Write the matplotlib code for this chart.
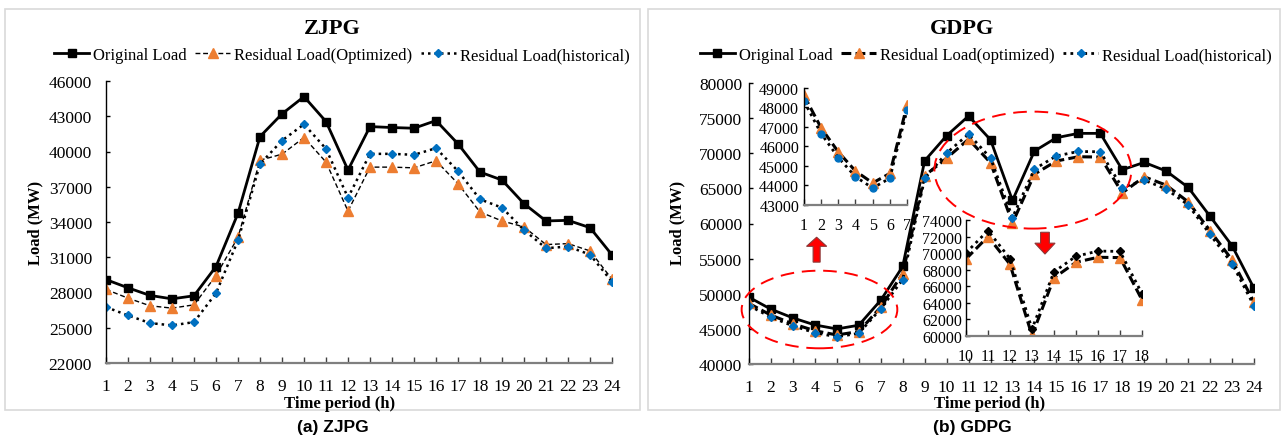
import matplotlib
matplotlib.use("Agg")
import matplotlib.pyplot as plt
from matplotlib.patches import Ellipse, FancyArrow, Rectangle

plt.rcParams['font.family'] = ['Liberation Serif', 'DejaVu Serif']

hours = list(range(1, 25))

# ZJPG
orig_zj = [29100, 28400, 27750, 27460, 27720, 30210, 34740, 41270, 43200, 44670, 42550, 38420,
           42120, 42040, 41980, 42630, 40650, 38250, 37570, 35560, 34090, 34140, 33520, 31200]
opt_zj = [28260, 27520, 26870, 26670, 26950, 29440, 32700, 39260, 39770, 41190, 39100, 34930,
          38670, 38670, 38610, 39210, 37260, 34850, 34090, 33580, 32080, 32160, 31540, 29130]
hist_zj = [26760, 26050, 25400, 25200, 25480, 27940, 32440, 38930, 40930, 42320, 40230, 36070,
           39800, 39800, 39720, 40280, 38330, 35930, 35220, 33320, 31770, 31910, 31230, 28910]

# GDPG
orig_gd = [49500, 47800, 46560, 45560, 44990, 45520, 49080, 53880, 68930, 72500, 75300, 71920,
           63280, 70310, 72210, 72830, 72830, 67650, 68700, 67470, 65150, 61020, 56840, 50780]
opt_gd = [48620, 46950, 45720, 44740, 44130, 44620, 48110, 52880, 66800, 69300, 72000, 68650,
          60070, 67020, 68900, 69500, 69460, 64360, 66650, 65460, 63090, 58960, 54820, 48800]
hist_gd = [48320, 46660, 45430, 44450, 43870, 44370, 47860, 52020, 66420, 70030, 72730, 69320,
           60850, 67750, 69620, 70250, 70210, 65100, 66180, 64900, 62660, 58440, 54300, 48280]

W, H = 1282, 439
ORANGE = '#ED7D31'
BLUE = '#0070C0'


def box(l, t, r, b):
    return [l / W, 1 - b / H, (r - l) / W, (b - t) / H]


def style_axis(ax, fs=12.5, xpad=10.5, ypad=9):
    for s in ['top', 'right']:
        ax.spines[s].set_visible(False)
    ax.spines['left'].set_color('black')
    ax.spines['left'].set_linewidth(1.0)
    ax.spines['bottom'].set_color('#7f7f7f')
    ax.spines['bottom'].set_linewidth(1.6)
    ax.tick_params(axis='x', direction='in', length=4, width=1.0, pad=xpad, labelsize=fs,
                   colors='#404040', labelcolor='black')
    ax.tick_params(axis='y', direction='in', length=3, width=1.0, pad=ypad, labelsize=fs,
                   colors='black', labelcolor='black')
    ax.set_facecolor('none')


fig = plt.figure(figsize=(W / 100, H / 100), dpi=100)

# panel frames
for l, r in [(5, 640), (648, 1280)]:
    fig.patches.append(Rectangle((l / W, 1 - 411 / H), (r - l) / W, (411 - 10) / H,
                                 transform=fig.transFigure, fill=False, ec='#d9d9d9', lw=1.2))

# ---------------- left: ZJPG ----------------
ax1 = fig.add_axes(box(106, 82, 612, 364))
ax1.plot(hours, orig_zj, color='black', lw=2, marker='s', ms=5.5, label='Original Load')
ax1.plot(hours, opt_zj, color='black', lw=1.0, ls=(0, (3.5, 2)), marker='^', ms=6.5,
         mfc=ORANGE, mec=ORANGE, label='Residual Load(Optimized)')
ax1.plot(hours, hist_zj, color='black', lw=1.8, ls=(0, (1, 1.6)), marker='D', ms=4.5,
         mfc=BLUE, mec=BLUE, label='Residual Load(historical)')
ax1.set_xlim(1, 24)
ax1.set_ylim(22000, 46000)
ax1.set_xticks(hours)
ax1.set_yticks(range(22000, 46001, 3000))
style_axis(ax1, ypad=10)
h1, l1 = ax1.get_legend_handles_labels()
fig.legend(h1, l1, loc='center', bbox_to_anchor=(342 / W, 1 - 56 / H), ncol=3, frameon=False,
           fontsize=12, handlelength=2.1, handletextpad=0.25, columnspacing=0.5)
fig.text(332 / W, 1 - 29 / H, 'ZJPG', ha='center', va='center', fontsize=16, fontweight='bold')
fig.text(35 / W, 1 - 223 / H, 'Load (MW)', ha='center', va='center', rotation=90, fontsize=12,
         fontweight='bold')
fig.text(340 / W, 1 - 404 / H, 'Time period (h)', ha='center', va='center', fontsize=12,
         fontweight='bold')
fig.text(333 / W, 1 - 428 / H, '(a) ZJPG', ha='center', va='center', fontsize=12.5,
         fontweight='bold', family=['Liberation Sans', 'DejaVu Sans'])

# ---------------- right: GDPG ----------------
ax2 = fig.add_axes(box(749, 84, 1254, 365))
ax2.plot(hours, orig_gd, color='black', lw=2, marker='s', ms=5.5, label='Original Load')
ax2.plot(hours, opt_gd, color='black', lw=2.2, ls=(0, (3.2, 1.4)), marker='^', ms=6.5,
         mfc=ORANGE, mec=ORANGE, label='Residual Load(optimized)')
ax2.plot(hours, hist_gd, color='black', lw=2.0, ls=(0, (1, 1.5)), marker='D', ms=4.5,
         mfc=BLUE, mec=BLUE, label='Residual Load(historical)')
ax2.set_xlim(1, 24)
ax2.set_ylim(40000, 80000)
ax2.set_xticks(hours)
ax2.set_yticks(range(40000, 80001, 5000))
style_axis(ax2, ypad=5)
h2, l2 = ax2.get_legend_handles_labels()
fig.legend(h2, l2, loc='center', bbox_to_anchor=(986 / W, 1 - 56 / H), ncol=3, frameon=False,
           fontsize=12, handlelength=2.1, handletextpad=0.25, columnspacing=0.5)
fig.text(962 / W, 1 - 29 / H, 'GDPG', ha='center', va='center', fontsize=16, fontweight='bold')
fig.text(677 / W, 1 - 223 / H, 'Load (MW)', ha='center', va='center', rotation=90, fontsize=12,
         fontweight='bold')
fig.text(990 / W, 1 - 404 / H, 'Time period (h)', ha='center', va='center', fontsize=12,
         fontweight='bold')
fig.text(972 / W, 1 - 428 / H, '(b) GDPG', ha='center', va='center', fontsize=12.5,
         fontweight='bold', family=['Liberation Sans', 'DejaVu Sans'])

# highlight ellipses and arrows
ax2.add_patch(Ellipse((4.21, 47760), 7.09, 11050, fill=False, ec='red', lw=1.4,
                      ls=(0, (7, 4)), clip_on=False, zorder=5))
ax2.add_patch(Ellipse((13.93, 67600), 8.97, 16650, fill=False, ec='red', lw=1.4,
                      ls=(0, (7, 4)), clip_on=False, zorder=5))
ax2.add_patch(FancyArrow(4.08, 54500, 0, 3550, width=0.32, head_width=0.92, head_length=1300,
                         length_includes_head=True, fc='red', ec='#8b3a3a', lw=0.8,
                         clip_on=False, zorder=6))
ax2.add_patch(FancyArrow(14.48, 58750, 0, -3100, width=0.4, head_width=0.92, head_length=1550,
                         length_includes_head=True, fc='red', ec='#8b3a3a', lw=0.8,
                         clip_on=False, zorder=6))

# inset 1: hours 1-7
ins1 = fig.add_axes(box(804, 89, 907, 206))
ins1.plot(hours[:7], opt_gd[:7], color='black', lw=2.2, ls=(0, (3.2, 1.4)), marker='^', ms=6.5,
          mfc=ORANGE, mec=ORANGE)
ins1.plot(hours[:7], hist_gd[:7], color='black', lw=2.0, ls=(0, (1, 1.5)), marker='o', ms=5,
          mfc=BLUE, mec=BLUE)
ins1.set_xlim(1, 7)
ins1.set_ylim(43000, 49000)
ins1.set_xticks(hours[:7])
ins1.set_yticks(range(43000, 49001, 1000))
style_axis(ins1, fs=11.5, xpad=9, ypad=3.5)

# inset 2: hours 10-18
ins2 = fig.add_axes(box(966, 221, 1142, 337))
ins2.plot(hours[9:18], opt_gd[9:18], color='black', lw=2.2, ls=(0, (3.2, 1.4)), marker='^', ms=6.5,
          mfc=ORANGE, mec=ORANGE)
ins2.plot(hours[9:18], hist_gd[9:18], color='black', lw=2.0, ls=(0, (1, 1.5)), marker='D', ms=4.5,
          mfc='black', mec='black')
ins2.set_xlim(10, 18)
ins2.set_ylim(60000, 74000)
ins2.set_xticks(hours[9:18])
ins2.set_yticks(range(60000, 74001, 2000))
style_axis(ins2, fs=11.5, xpad=8.5, ypad=3)

fig.savefig('out.png', dpi=100)
